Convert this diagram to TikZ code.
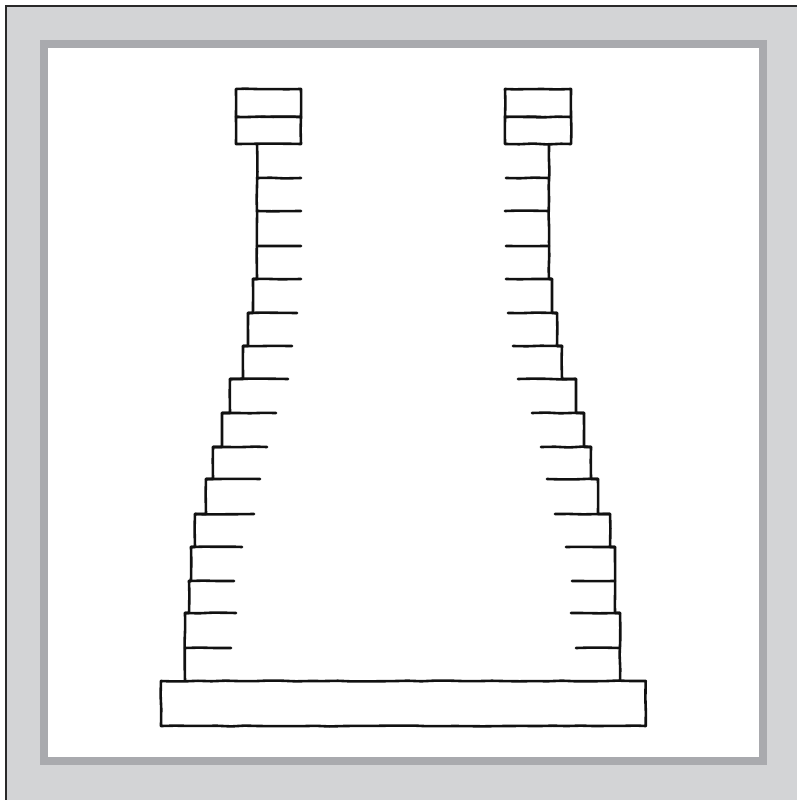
\documentclass[tikz,border=0pt]{standalone}
\usetikzlibrary{decorations.pathmorphing}
\definecolor{framefill}{HTML}{D3D4D6}
\definecolor{bandgray}{HTML}{A9AAAE}
\definecolor{ink}{HTML}{111111}
\tikzset{
  inkline/.style={draw=ink, line width=2.6pt, line cap=round, line join=round,
    decorate, decoration={random steps, segment length=14pt, amplitude=0.45pt}},
  boxline/.style={inkline, fill=white}
}
\pgfmathsetseed{7}
\begin{document}
\begin{tikzpicture}[x=1pt,y=-1pt]
\useasboundingbox (0,0) rectangle (797,800);
\clip (0,0) rectangle (797,800);
% outer frame
\fill[white] (0,0) rectangle (797,800);
\draw[draw=ink!90, fill=framefill, line width=2pt] (6,6) rectangle (820,820);
% gray band and white panel
\draw[draw=bandgray, fill=white, line width=8pt] (44,44) rectangle (762.7,760.7);

% top boxes
\draw[boxline] (236,89) rectangle (301,117);
\draw[boxline] (236,117) rectangle (301,144);
\draw[boxline] (505,89) rectangle (571,117);
\draw[boxline] (505,117) rectangle (571,144);

% left stair outline
\draw[inkline] (257,144) -- (257,279) -- (253,279) -- (253,313) -- (248,313)
  -- (248,346) -- (243,346) -- (243,379) -- (230,379) -- (230,413) -- (222,413)
  -- (222,447) -- (213,447) -- (213,479) -- (206,479) -- (206,514) -- (195,514)
  -- (195,547) -- (191,547) -- (191,581) -- (189,581) -- (189,613) -- (185,613)
  -- (185,681);
% left ticks
\foreach \y/\a/\b in {178/257/301, 211/257/301, 246/257/301, 279/253/301,
  313/248/297, 346/243/292, 379/230/288, 413/222/276, 447/213/267,
  479/206/260, 514/195/254, 547/191/242, 581/189/234, 613/185/236, 648/185/231}
  \draw[inkline] (\a,\y) -- (\b,\y);

% right stair outline
\draw[inkline] (549,144) -- (549,279) -- (552,279) -- (552,313) -- (557,313)
  -- (557,346) -- (562,346) -- (562,379) -- (576,379) -- (576,413) -- (584,413)
  -- (584,447) -- (591,447) -- (591,479) -- (598,479) -- (598,514) -- (610,514)
  -- (610,547) -- (615,547) -- (615,613) -- (620,613) -- (620,681);
% right ticks
\foreach \y/\a/\b in {178/506/549, 211/505/549, 246/506/549, 279/506/552,
  313/508/557, 346/513/562, 379/518/576, 413/532/584, 447/541/591,
  479/547/598, 514/555/610, 547/566/615, 581/572/615, 613/571/620, 648/576/620}
  \draw[inkline] (\a,\y) -- (\b,\y);

% base
\draw[boxline] (161,681) rectangle (645.7,726);
\end{tikzpicture}
\end{document}
